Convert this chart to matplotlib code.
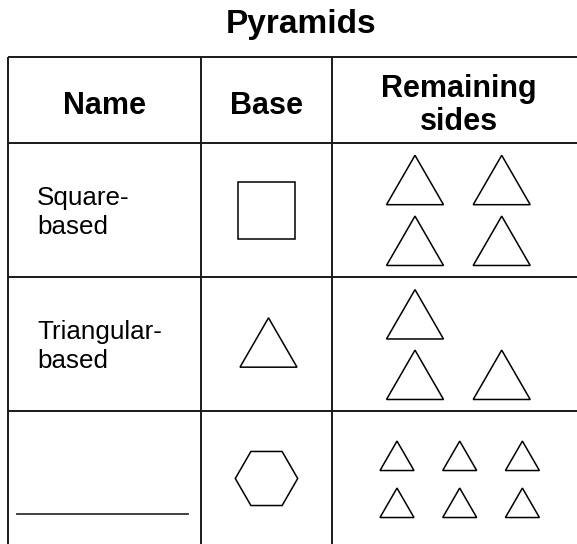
import numpy as np
import matplotlib
matplotlib.use("Agg")
import matplotlib.pyplot as plt
from matplotlib.patches import Polygon

plt.rcParams['font.family'] = ['Liberation Sans', 'DejaVu Sans']

# table content
title = "Pyramids"
headers = ["Name", "Base", "Remaining\nsides"]
names = [["Square-", "based"], ["Triangular-", "based"], []]
base_sides = [4, 3, 6]          # shape of the base
remaining_count = [4, 3, 6]     # number of triangular faces

# layout (pixels, y goes down)
col_edges = [8, 201, 332, 585]
row_edges = [57, 143, 277, 411, 546]
base_size = [57, 57, 31.2]
tri_pos = [
    [(415, 180), (501.7, 180), (415, 240.8), (501.7, 240.8)],
    [(415, 314.3), (415, 374.8), (501.7, 374.8)],
    [(397, 455.8), (459.7, 455.8), (522.4, 455.8),
     (397, 502.8), (459.7, 502.8), (522.4, 502.8)],
]
tri_width = [57, 57, 34]

fig = plt.figure(figsize=(5.77, 5.44), dpi=100)
ax = fig.add_axes([0, 0, 1, 1])
ax.set_xlim(0, 577)
ax.set_ylim(544, 0)
ax.axis('off')

line_col = '#1a1a1a'
# grid lines
for x in col_edges:
    ax.plot([x, x], [row_edges[0], row_edges[-1]], color=line_col, lw=1.4, solid_capstyle='butt')
for y in row_edges:
    ax.plot([col_edges[0], col_edges[-1]], [y, y], color=line_col, lw=1.4, solid_capstyle='butt')

ax.text(301, 33.5, title, ha='center', va='baseline', fontsize=24, fontweight='bold')

# headers
ax.text((col_edges[0] + col_edges[1]) / 2, 114.5, headers[0], ha='center', va='baseline',
        fontsize=22, fontweight='bold')
ax.text((col_edges[1] + col_edges[2]) / 2, 114.5, headers[1], ha='center', va='baseline',
        fontsize=22, fontweight='bold')
for i, part in enumerate(headers[2].split("\n")):
    ax.text((col_edges[2] + col_edges[3]) / 2, 97 + 33 * i, part, ha='center', va='baseline',
            fontsize=22, fontweight='bold')


def triangle(cx, cy, w):
    h = w * np.sqrt(3) / 2
    return [(cx, cy - h / 2), (cx - w / 2, cy + h / 2), (cx + w / 2, cy + h / 2)]


for r in range(3):
    top = row_edges[r + 1]
    cy = (top + row_edges[r + 2]) / 2
    cx = (col_edges[1] + col_edges[2]) / 2
    # name column
    for j, line in enumerate(names[r]):
        ax.text(37, top + 62 + 29 * j, line, ha='left', va='baseline', fontsize=18.7)
    # base shape
    n = base_sides[r]
    s = base_size[r]
    if n == 4:
        verts = [(cx - s / 2, cy - s / 2), (cx + s / 2, cy - s / 2),
                 (cx + s / 2, cy + s / 2), (cx - s / 2, cy + s / 2)]
    elif n == 3:
        verts = triangle(cx + 2, cy - 1.5, s)
    else:
        ang = np.arange(n) * 2 * np.pi / n
        verts = list(zip(cx + s * np.cos(ang), cy + s * np.sin(ang)))
    ax.add_patch(Polygon(verts, closed=True, fill=False, ec='black', lw=1.1))
    # remaining triangular faces
    for k in range(remaining_count[r]):
        px, py = tri_pos[r][k]
        ax.add_patch(Polygon(triangle(px, py, tri_width[r]), closed=True, fill=False,
                             ec='black', lw=1.1))

# blank answer line
ax.plot([17, 188], [514, 514], color='#333333', lw=1.3)

fig.savefig("out.png", dpi=100)
